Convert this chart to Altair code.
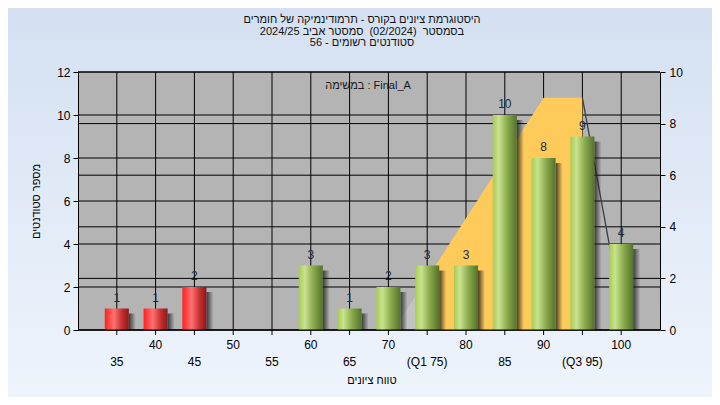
import altair as alt
import pandas as pd

# ---------------- data ----------------
scores = [35, 40, 45, 50, 55, 60, 65, 70, 75, 80, 85, 90, 95, 100]
counts = [1, 1, 2, 0, 0, 3, 1, 2, 3, 3, 10, 8, 9, 4]
fail_limit = 55
row1_scores = [40, 50, 60, 70, 80, 90, 100]
row1_text = ["40", "50", "60", "70", "80", "90", "100"]
row2_scores = [35, 45, 55, 65, 75, 85, 95]
row2_text = ["35", "45", "55", "65", "(Q1 75)", "85", "(Q3 95)"]
left_ticks = [0, 2, 4, 6, 8, 10, 12]
right_ticks = [0, 2, 4, 6, 8, 10]
band_x = [75, 90, 95]
band_y = [2, 9, 9]
lead_x = [70.6, 75]
lead_y = [0, 2]
tail_x = [95, 100]
tail_y = [9, 0.8]
title_lines = [
    "היסטוגרמת ציונים בקורס - תרמודינמיקה של חומרים",
    "בסמסטר\u00a0\u00a0(02/2024)\u00a0\u00a0סמסטר אביב 2024/25",
    "סטודנטים רשומים - 56",
]
task_text = "במשימה : Final_A"
x_title = "טווח ציונים"
y_title = "מספר סטודנטים"

# ---------------- layout ----------------
W, H = 582, 258
PAD = {"left": 70, "top": 64, "right": 52, "bottom": 67}
FONT = "Liberation Sans"
HALF = 1.55  # half bar width in score units

xscale = alt.Scale(domain=[30, 105], nice=False, zero=False)
yl_scale = alt.Scale(domain=[0, 12], nice=False, zero=True)
yr_scale = alt.Scale(domain=[0, 10], nice=False, zero=True)


def grad(stops, vertical=False):
    return {
        "gradient": "linear",
        "x1": 0, "y1": 0,
        "x2": 0 if vertical else 1,
        "y2": 1 if vertical else 0,
        "stops": [{"offset": o, "color": c} for o, c in stops],
    }


green_grad = grad([(0, "#a7cc52"), (0.25, "#c9e38f"), (0.6, "#8aaa4c"), (1, "#55712a")])
red_grad = grad([(0, "#ff1f1f"), (0.38, "#ff7373"), (0.72, "#c42e2e"), (1, "#8a1919")])
shadow_grad = grad([(0, "rgba(25,25,25,0.8)"), (1, "rgba(25,25,25,0)")])
bg_grad = grad([(0, "#d4e0f1"), (1, "#eef4fc")], vertical=True)

bars = pd.DataFrame({"score": scores, "count": counts})
bars = bars[bars["count"] > 0].copy()
bars["x0"] = bars["score"] - HALF
bars["x1"] = bars["score"] + HALF
bars["xs"] = bars["score"] + HALF + 0.9
red_df = bars[bars["score"] < fail_limit]
green_df = bars[bars["score"] >= fail_limit]

one = pd.DataFrame({"k": [0]})
score_df = pd.DataFrame({"score": scores})

bg = alt.Chart(one).mark_rect(fill=bg_grad).encode(
    x=alt.value(-PAD["left"]), x2=alt.value(W + PAD["right"]),
    y=alt.value(-PAD["top"]), y2=alt.value(H + PAD["bottom"]),
)
plot_bg = alt.Chart(one).mark_rect(color="#b4b4b4").encode(
    x=alt.value(0), x2=alt.value(W), y=alt.value(0), y2=alt.value(H)
)

vgrid = alt.Chart(score_df).mark_rule(color="black", strokeWidth=1).encode(
    x=alt.X("score:Q", scale=xscale, axis=None), y=alt.value(0), y2=alt.value(H)
)
xticks = alt.Chart(score_df).mark_rule(color="black", strokeWidth=1).encode(
    x=alt.X("score:Q", scale=xscale, axis=None), y=alt.value(H), y2=alt.value(H + 5)
)

hgrid_left = alt.Chart(pd.DataFrame({"v": left_ticks})).mark_rule(color="black", strokeWidth=1).encode(
    y=alt.Y("v:Q", scale=yl_scale, axis=alt.Axis(
        orient="left", values=left_ticks, title=y_title, tickSize=5, labelPadding=3,
        grid=False, format="d", titleX=-42, titleY=H / 2, titleBaseline="middle",
        titleAlign="center", titleFontSize=11, zindex=1)),
    x=alt.value(0), x2=alt.value(W),
)

hgrid_right = alt.Chart(pd.DataFrame({"v": right_ticks})).mark_rule(color="black", strokeWidth=1).encode(
    y=alt.Y("v:Q", scale=yr_scale, axis=alt.Axis(
        orient="right", values=right_ticks, title=None, tickSize=5, labelPadding=4,
        grid=False, format="d", zindex=1)),
    x=alt.value(0), x2=alt.value(W),
)

lead = alt.Chart(pd.DataFrame({"bx": lead_x, "by": lead_y})).mark_area(
    color="#ffffff", opacity=0.2, orient="vertical", interpolate="linear"
).encode(
    x=alt.X("bx:Q", scale=xscale, axis=None),
    y=alt.Y("by:Q", scale=yr_scale, axis=None),
)

band = alt.Chart(pd.DataFrame({"bx": band_x, "by": band_y})).mark_area(
    color="#fecb5b", orient="vertical", interpolate="linear"
).encode(
    x=alt.X("bx:Q", scale=xscale, axis=None),
    y=alt.Y("by:Q", scale=yr_scale, axis=None),
)

tail = alt.Chart(pd.DataFrame({"tx": tail_x, "ty": tail_y})).mark_line(
    color="#3e3e3e", strokeWidth=1.3
).encode(
    x=alt.X("tx:Q", scale=xscale, axis=None),
    y=alt.Y("ty:Q", scale=yr_scale, axis=None),
)

shadows = alt.Chart(bars).mark_rect(fill=shadow_grad, yOffset=5).encode(
    x=alt.X("x1:Q", scale=xscale, axis=None), x2="xs:Q",
    y=alt.Y("count:Q", scale=yl_scale, axis=None), y2=alt.datum(0),
)

red_bars = alt.Chart(red_df).mark_rect(fill=red_grad).encode(
    x=alt.X("x0:Q", scale=xscale, axis=None), x2="x1:Q",
    y=alt.Y("count:Q", scale=yl_scale, axis=None), y2=alt.datum(0),
)
green_bars = alt.Chart(green_df).mark_rect(fill=green_grad).encode(
    x=alt.X("x0:Q", scale=xscale, axis=None), x2="x1:Q",
    y=alt.Y("count:Q", scale=yl_scale, axis=None), y2=alt.datum(0),
)

bottom_line = alt.Chart(one).mark_rule(color="black", strokeWidth=1).encode(
    x=alt.value(0), x2=alt.value(W), y=alt.value(H)
)

labels = alt.Chart(bars).mark_text(
    dy=-7, baseline="alphabetic", fontSize=12, color="#1e2a3c", font=FONT
).encode(
    x=alt.X("score:Q", scale=xscale, axis=None),
    y=alt.Y("count:Q", scale=yl_scale, axis=None),
    text="count:Q",
)

row1 = alt.Chart(pd.DataFrame({"score": row1_scores, "t": row1_text})).mark_text(
    fontSize=12, color="#000000", font=FONT, baseline="middle"
).encode(
    x=alt.X("score:Q", scale=xscale, axis=None),
    y=alt.value(H + 15),
    text="t:N",
)
row2 = alt.Chart(pd.DataFrame({"score": row2_scores, "t": row2_text})).mark_text(
    fontSize=12, color="#000000", font=FONT, baseline="middle"
).encode(
    x=alt.X("score:Q", scale=xscale, axis=None),
    y=alt.value(H + 32),
    text="t:N",
)

xtitle = alt.Chart(one).mark_text(
    text=x_title, fontSize=11, color="#000000", font=FONT, baseline="middle"
).encode(x=alt.value(W / 2 + 3), y=alt.value(H + 51))

task = alt.Chart(one).mark_text(
    text=task_text, fontSize=11, color="#1a1a1a", font=FONT, baseline="middle"
).encode(x=alt.value(290), y=alt.value(14))

title = alt.Chart(one).mark_text(
    text=title_lines, fontSize=11, lineHeight=11.5, baseline="top", align="center",
    color="#111111", font=FONT
).encode(x=alt.value(284), y=alt.value(-58))

chart = alt.layer(
    bg, plot_bg, vgrid, hgrid_left, hgrid_right, lead, band, tail,
    shadows, red_bars, green_bars, bottom_line, xticks, labels,
    row1, row2, xtitle, task, title
).resolve_scale(y="independent").properties(
    width=W, height=H,
    autosize=alt.AutoSizeParams(type="none"),
    padding=PAD,
).configure_view(stroke=None).configure_axis(
    labelFont=FONT, titleFont=FONT, labelFontSize=12, titleFontSize=12,
    labelColor="#000000", titleColor="#000000", titleFontWeight="normal",
    domainColor="#000000", tickColor="#000000", domainWidth=1, tickWidth=1,
)

chart.save("out.html", embed_options={"renderer": "svg", "actions": False})
